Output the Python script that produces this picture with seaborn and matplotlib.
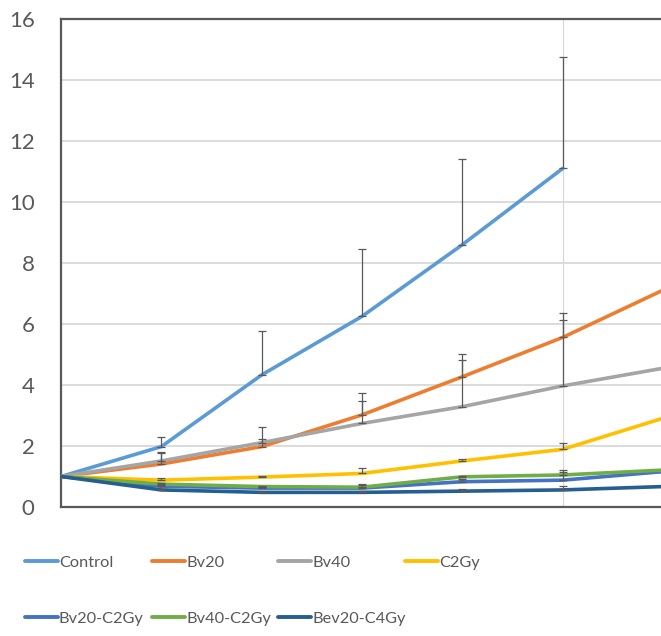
import numpy as np
import pandas as pd
import matplotlib
matplotlib.use("Agg")
import matplotlib.pyplot as plt
import seaborn as sns

# chart data
days = [0, 1, 2, 3, 4, 5, 6]
series_names = ["Control", "Bv20", "Bv40", "C2Gy", "Bv20-C2Gy", "Bv40-C2Gy", "Bev20-C4Gy"]
control = [1.0, 1.98, 4.33, 6.25, 8.6, 11.1, np.nan]
bv20 = [1.0, 1.41, 1.98, 3.02, 4.27, 5.56, 7.11]
bv40 = [1.0, 1.51, 2.11, 2.74, 3.29, 3.97, 4.55]
c2gy = [1.0, 0.88, 0.98, 1.1, 1.51, 1.89, 2.91]
bv20_c2gy = [1.0, 0.68, 0.62, 0.62, 0.83, 0.88, 1.16]
bv40_c2gy = [1.0, 0.75, 0.67, 0.65, 0.99, 1.05, 1.21]
bev20_c4gy = [1.0, 0.56, 0.48, 0.48, 0.52, 0.56, 0.67]

# upper error bars (days 1..5)
err_days = [1, 2, 3, 4, 5]
control_err = [0.32, 1.45, 2.21, 2.82, 3.67]
bv20_err = [0.4, 0.65, 0.71, 0.75, 0.81]
bv40_err = [0.25, 0.11, 0.75, 1.53, 2.16]
c2gy_err = [0.06, 0.04, 0.17, 0.06, 0.2]
bv20_c2gy_err = [0.03, 0.03, 0.1, 0.1, 0.26]
bv40_c2gy_err = [0.03, 0.03, 0.1, 0.03, 0.16]
bev20_c4gy_err = [0.02, 0.02, 0.05, 0.08, 0.13]

colors = ["#5B9BD5", "#ED7D31", "#A5A5A5", "#FFC000", "#4472C4", "#70AD47", "#255E91"]

values = [control, bv20, bv40, c2gy, bv20_c2gy, bv40_c2gy, bev20_c4gy]
errors = [control_err, bv20_err, bv40_err, c2gy_err, bv20_c2gy_err, bv40_c2gy_err, bev20_c4gy_err]

rows = []
for name, vals in zip(series_names, values):
    for d, v in zip(days, vals):
        rows.append({"day": d, "value": v, "series": name})
df = pd.DataFrame(rows).dropna()

sns.set_style("white")
plt.rcParams["font.family"] = ["Lato", "DejaVu Sans"]

fig = plt.figure(figsize=(6.61, 6.36), dpi=100)
ax = fig.add_axes([61 / 661, 129 / 636, 600 / 661, 488 / 636])

sns.lineplot(data=df, x="day", y="value", hue="series", hue_order=series_names,
             palette=colors, linewidth=2.6, ax=ax, legend=True, zorder=3)

# error bars (upper only)
for name, vals, errs in zip(series_names, values, errors):
    y = [vals[d] for d in err_days]
    ax.errorbar(err_days, y, yerr=[np.zeros(len(errs)), errs], fmt="none",
                ecolor="#595959", elinewidth=0.9, capsize=3, capthick=0.9, zorder=4)

ax.set_xlim(0, 5.98)
ax.set_ylim(0, 16)
ax.set_yticks(range(0, 17, 2))
ax.set_xticks([])
ax.yaxis.grid(True, color="#D9D9D9", linewidth=1.3)
ax.axvline(5, color="#D9D9D9", linewidth=0.9, zorder=1)
ax.set_xlabel("")
ax.set_ylabel("")
ax.tick_params(axis="y", labelsize=16, labelcolor="#595959", length=0, pad=19)
for side in ["left", "bottom", "top"]:
    ax.spines[side].set_color("#595959")
    ax.spines[side].set_linewidth(1.6)
ax.spines["right"].set_visible(False)

# legend: one small legend per column so the columns sit evenly spaced
handles, labels = ax.get_legend_handles_labels()
ax.get_legend().remove()
lookup = dict(zip(labels, handles))
legend_cols = [["Control", "Bv20-C2Gy"], ["Bv20", "Bv40-C2Gy"],
               ["Bv40", "Bev20-C4Gy"], ["C2Gy"]]
col_x = [25, 152, 278, 405]
fs = 11.8
fs_px = fs * 100 / 72
for names, x in zip(legend_cols, col_x):
    leg = fig.legend([lookup[n] for n in names], names, loc="upper left",
                     bbox_to_anchor=(x / 661, 1 - 555.5 / 636), frameon=False,
                     borderpad=0, borderaxespad=0, fontsize=fs,
                     handlelength=33 / fs_px, handletextpad=1 / fs_px,
                     labelspacing=(57.5 - fs_px) / fs_px, labelcolor="#595959")
    for line in leg.get_lines():
        line.set_linewidth(2.8)

fig.savefig("out.png", dpi=100)
